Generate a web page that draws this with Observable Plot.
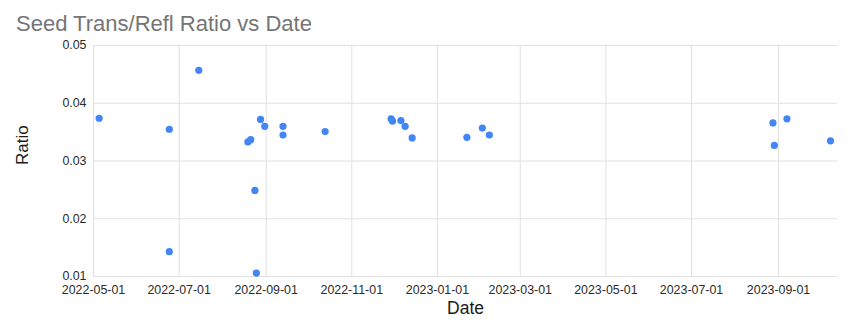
<!DOCTYPE html>
<html>
<head>
<meta charset="utf-8">
<script src="https://cdn.jsdelivr.net/npm/d3@7"></script>
<script src="https://cdn.jsdelivr.net/npm/@observablehq/plot@0.6"></script>
<style>
  html, body { margin: 0; padding: 0; background: #fff; }
  body { width: 864px; height: 325px; overflow: hidden; font-family: "Liberation Sans", Arial, sans-serif; }
  #title { height: 23px; padding: 13px 0 0 16px; font-size: 22px; line-height: 22px; color: #757575; white-space: nowrap; }
  svg { display: block; }
</style>
</head>
<body>
<div id="title">Seed Trans/Refl Ratio vs Date</div>
<div id="chart"></div>
<script>
const dates = [
  "2022-05-05", "2022-06-24", "2022-06-24", "2022-07-15", "2022-08-19",
  "2022-08-21", "2022-08-24", "2022-08-25", "2022-08-28", "2022-08-31",
  "2022-09-13", "2022-09-13", "2022-10-13", "2022-11-29", "2022-11-30",
  "2022-12-06", "2022-12-09", "2022-12-14", "2023-01-22", "2023-02-02",
  "2023-02-07", "2023-08-28", "2023-08-29", "2023-09-07", "2023-10-08"
];
const ratios = [
  0.0374, 0.0355, 0.0143, 0.0457, 0.0333,
  0.0337, 0.0249, 0.0106, 0.0372, 0.0360,
  0.0360, 0.0345, 0.0351, 0.0373, 0.0369,
  0.0370, 0.0360, 0.0340, 0.0341, 0.0357,
  0.0345, 0.0366, 0.0327, 0.0373, 0.0335
];
const xTickLabels = [
  "2022-05-01", "2022-07-01", "2022-09-01", "2022-11-01", "2023-01-01",
  "2023-03-01", "2023-05-01", "2023-07-01", "2023-09-01"
];
const yTicks = [0.01, 0.02, 0.03, 0.04, 0.05];
const xDomain = ["2022-05-01", "2023-10-13"];

const parse = d3.utcParse("%Y-%m-%d");
const data = dates.map((d, i) => ({date: parse(d), ratio: ratios[i]}));
const xTicks = xTickLabels.map(parse);

const chart = Plot.plot({
  width: 864,
  height: 289,
  marginTop: 9,
  marginBottom: 49,
  marginLeft: 93,
  marginRight: 27,
  style: {fontFamily: "'Liberation Sans', Arial, sans-serif", background: "#fff"},
  x: {type: "utc", domain: xDomain.map(parse)},
  y: {domain: [0.01, 0.05]},
  marks: [
    Plot.gridX(xTicks, {stroke: "#e0e0e0", strokeOpacity: 1, strokeWidth: 1}),
    Plot.gridY(yTicks, {stroke: "#e0e0e0", strokeOpacity: 1, strokeWidth: 1}),
    Plot.axisX(xTicks, {tickSize: 0, tickPadding: 8.5, tickFormat: d3.utcFormat("%Y-%m-%d"), fontSize: 12.4, fill: "#2a2a2a", label: null}),
    Plot.axisY(yTicks, {tickSize: 0, tickPadding: 7, tickFormat: d3.format(".2f"), fontSize: 12.4, fill: "#2a2a2a", label: null}),
    Plot.dot(data, {x: "date", y: "ratio", r: 3.6, fill: "#4285f4", stroke: "none"}),
    Plot.text(["Date"], {frameAnchor: "bottom", dy: 37, fontSize: 17.5, fill: "#1a1a1a"}),
    Plot.text(["Ratio"], {frameAnchor: "left", dx: -71, dy: 4, rotate: -90, fontSize: 17, fill: "#1a1a1a"})
  ]
});
document.getElementById("chart").appendChild(chart);
</script>
</body>
</html>
